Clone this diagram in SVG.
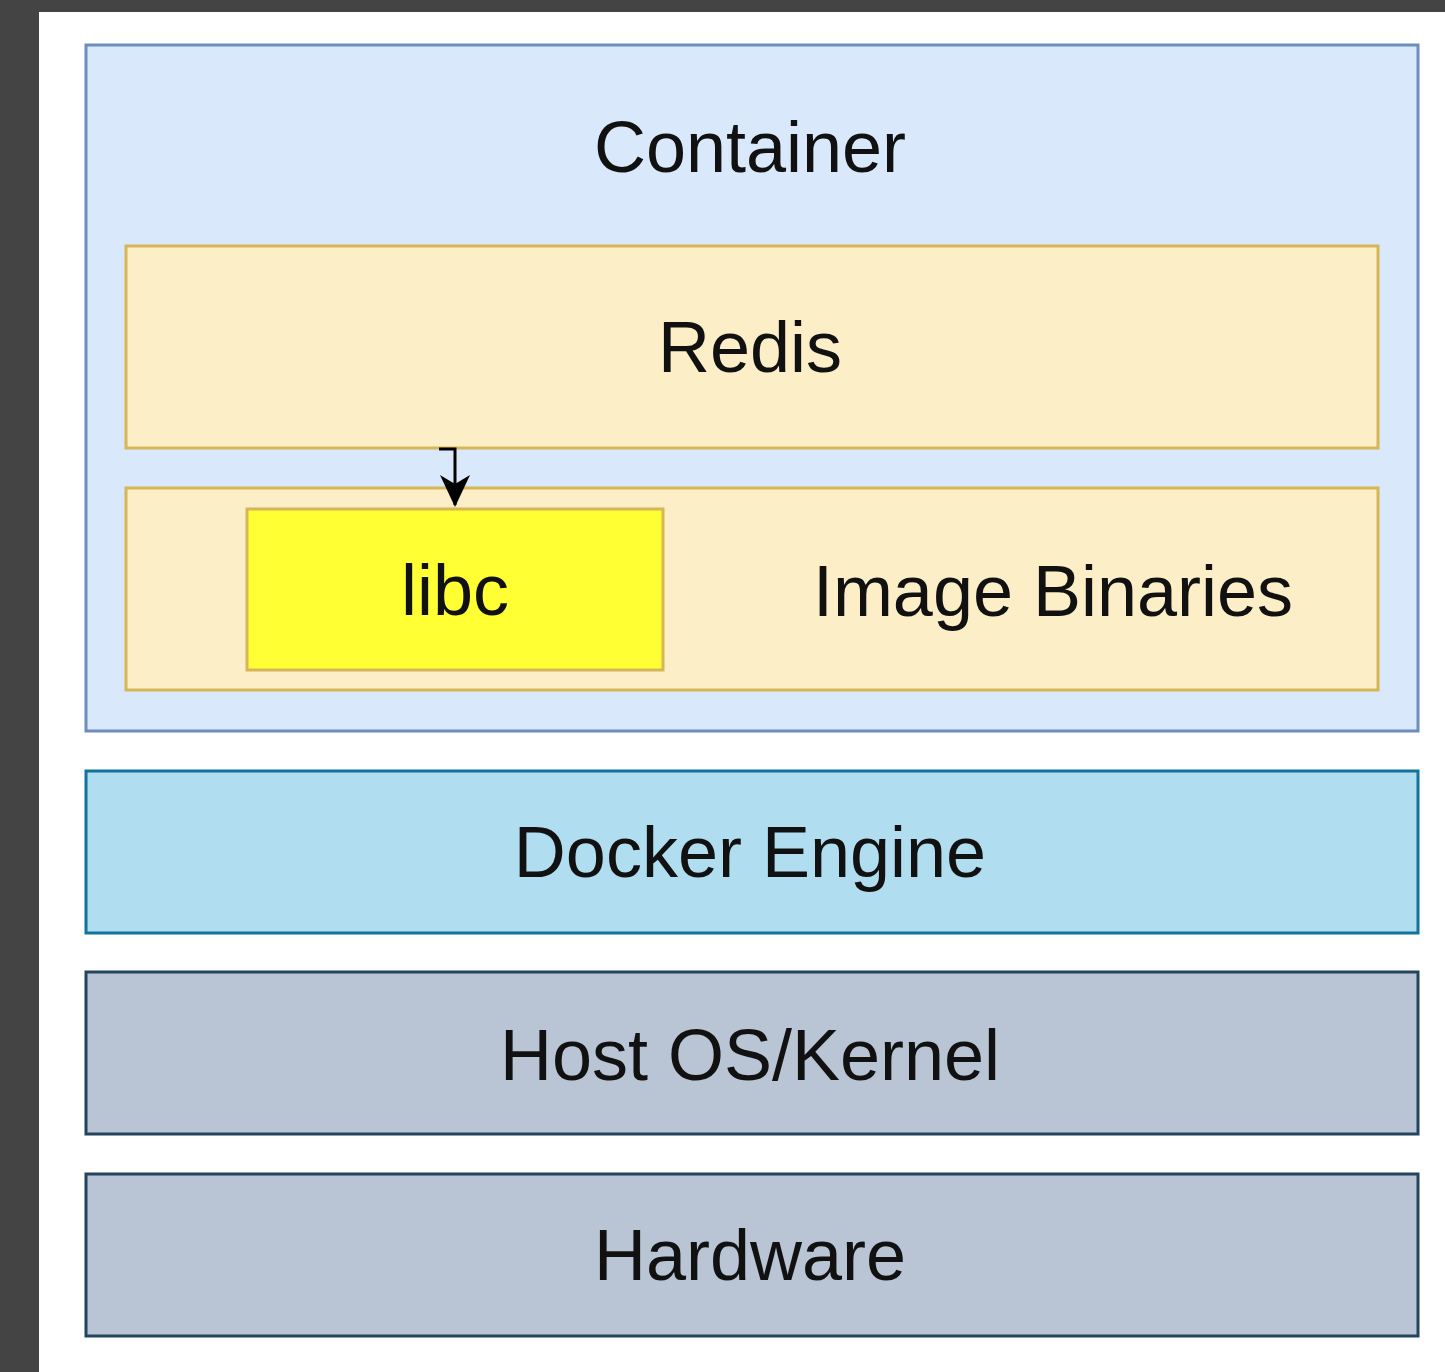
<svg xmlns="http://www.w3.org/2000/svg" width="1445" height="1372" viewBox="0 0 1445 1372">
<defs>
<style>
.lbl{font-family:"Liberation Sans",Arial,sans-serif;font-size:72px;fill:#111;text-anchor:middle}
.blue{fill:#dae8fc;stroke:#6c8ebf;stroke-width:3}
.yel{fill:#fcefc8;stroke:#d6b656;stroke-width:3}
.libc{fill:#ffff33;stroke:#d6b656;stroke-width:3}
.dock{fill:#b1ddf0;stroke:#10739e;stroke-width:3}
.gray{fill:#b9c5d5;stroke:#23445d;stroke-width:3}
</style>
<marker id="ah" viewBox="0 0 32 32" refX="30" refY="16" markerWidth="32" markerHeight="32" markerUnits="userSpaceOnUse" orient="auto">
<path d="M0,1 L32,16 L0,31 L9,16 Z" fill="#000"/>
</marker>
</defs>
<rect x="0" y="0" width="1445" height="1372" fill="#444444"/>
<rect x="39" y="12" width="1406" height="1360" fill="#ffffff"/>
<g id="container">
<rect class="blue" x="86" y="45" width="1332" height="686"/>
<text class="lbl" x="750" y="172">Container</text>
</g>
<g id="redis">
<rect class="yel" x="126" y="246" width="1252" height="202"/>
<text class="lbl" x="750" y="372">Redis</text>
</g>
<g id="image-binaries">
<rect class="yel" x="126" y="488" width="1252" height="202"/>
<text class="lbl" x="1053" y="616">Image Binaries</text>
</g>
<g id="libc">
<rect class="libc" x="247" y="509" width="416" height="161"/>
<text class="lbl" x="455" y="615">libc</text>
</g>
<g id="docker-engine">
<rect class="dock" x="86" y="771" width="1332" height="162"/>
<text class="lbl" x="750" y="877">Docker Engine</text>
</g>
<g id="host-os">
<rect class="gray" x="86" y="972" width="1332" height="162"/>
<text class="lbl" x="750" y="1080">Host OS/Kernel</text>
</g>
<g id="hardware">
<rect class="gray" x="86" y="1174" width="1332" height="162"/>
<text class="lbl" x="750" y="1280">Hardware</text>
</g>
<g id="connectors">
<path d="M439,449 L455,449 L455,505" fill="none" stroke="#000" stroke-width="3" marker-end="url(#ah)"/>
</g>
</svg>
